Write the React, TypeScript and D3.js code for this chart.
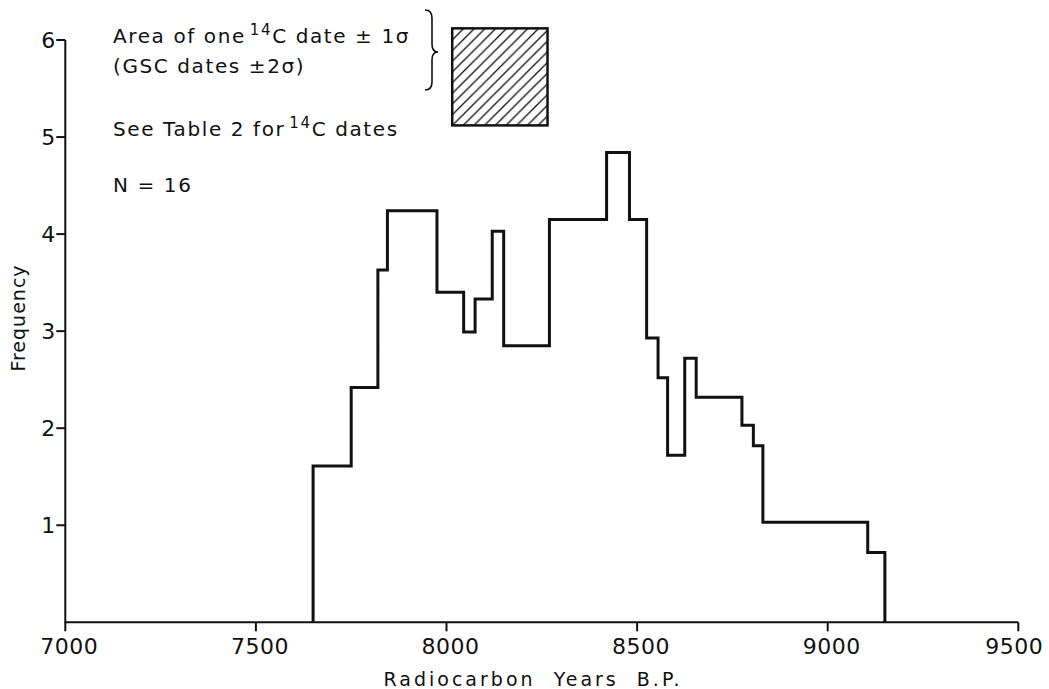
import React from 'react';
import * as d3 from 'd3';

// bin edges (years B.P.) and the frequency of each bin between two edges
const binEdges = [7650, 7750, 7820, 7845, 7975, 8045, 8075, 8120, 8150, 8270, 8420, 8480, 8525, 8555, 8580, 8625, 8655, 8775, 8805, 8830, 9105, 9150];
const frequencies = [1.61, 2.42, 3.63, 4.24, 3.40, 2.99, 3.33, 4.03, 2.85, 4.15, 4.84, 4.15, 2.93, 2.52, 1.72, 2.72, 2.32, 2.03, 1.82, 1.03, 0.72];
const xTicks = [7000, 7500, 8000, 8500, 9000, 9500];
const yTicks = [1, 2, 3, 4, 5, 6];
// legend box: one date, 250 years wide, one unit high
const legendBox = { start: 8015, years: 250, bottom: 5.12, height: 1 };

const W = 1049;
const H = 689;
const font = '"DejaVu Sans", sans-serif';

const App = () => {
    const x = d3.scaleLinear().domain([7000, 9500]).range([65.3, 1018.3]);
    const y = d3.scaleLinear().domain([0, 6]).range([622.3, 40]);

    const pts: [number, number][] = [[binEdges[0], 0]];
    frequencies.forEach((f, i) => pts.push([binEdges[i], f]));
    pts.push([binEdges[binEdges.length - 1], 0]);

    const line = d3.line<[number, number]>()
        .x(d => x(d[0]))
        .y(d => y(d[1]))
        .curve(d3.curveStepAfter);

    const x0 = x(7000), y0 = y(0);
    const bx = x(legendBox.start);
    const bw = x(legendBox.start + legendBox.years) - bx;
    const by = y(legendBox.bottom + legendBox.height);
    const bh = y(legendBox.bottom) - by;

    return (
        <svg width={W} height={H} style={{ position: 'absolute', left: 0, top: 0, background: '#fff' }}>
            <defs>
                <pattern id="hatch" patternUnits="userSpaceOnUse" width="10.7" height="10.7">
                    <path d="M0,10.7 L10.7,0 M-2,2 L2,-2 M8.7,12.7 L12.7,8.7" stroke="#111" strokeWidth="1.3" />
                </pattern>
            </defs>

            {/* axes */}
            <path d={`M${x0},${y(6)} V${y0} H${x(9500)}`} fill="none" stroke="#111" strokeWidth={2} />
            {yTicks.map(t => (
                <g key={t}>
                    <line x1={x0 - 9} x2={x0} y1={y(t)} y2={y(t)} stroke="#111" strokeWidth={2} />
                    <text x={x0 - 10} y={y(t) + 8} textAnchor="end" fontSize={22} fontFamily={font} fill="#111">{t}</text>
                </g>
            ))}
            {xTicks.map(t => (
                <g key={t}>
                    <line x1={x(t)} x2={x(t)} y1={y0} y2={y0 + 9} stroke="#111" strokeWidth={2} />
                    <text x={x(t) + (t === 9500 ? -4 : 4)} y={654} textAnchor="middle" fontSize={22} fontFamily={font} letterSpacing={0.5} fill="#111">{t}</text>
                </g>
            ))}
            <text x={533} y={686} textAnchor="middle" fontSize={19} fontFamily={font} letterSpacing={3} fill="#111" style={{ whiteSpace: 'pre' }}>
                {'Radiocarbon  Years  B.P.'}
            </text>
            <text transform="translate(25,318) rotate(-90)" textAnchor="middle" fontSize={19} fontFamily={font} letterSpacing={1} fill="#111">Frequency</text>

            {/* histogram */}
            <path d={line(pts) || ''} fill="none" stroke="#111" strokeWidth={3} strokeLinejoin="miter" />

            {/* legend */}
            <g fontFamily={font} fontSize={20} fill="#111" letterSpacing={1.6} style={{ whiteSpace: 'pre' }}>
                <text x={113} y={43}>
                    Area of one<tspan dx={4} dy={-8} fontSize={15}>14</tspan><tspan dy={8}>C date ± 1σ</tspan>
                </text>
                <text x={113} y={73}>(GSC dates ±2σ)</text>
                <text x={113} y={136}>
                    See Table 2 for<tspan dx={4} dy={-8} fontSize={15}>14</tspan><tspan dy={8}>C dates</tspan>
                </text>
                <text x={113} y={192}>N = 16</text>
            </g>
            <path d="M425,10 Q432,10 432,18 L432,44 Q432,52 438,52 Q432,52 432,60 L432,82 Q432,90 425,90"
                fill="none" stroke="#111" strokeWidth={1.6} />
            <rect x={bx} y={by} width={bw} height={bh} fill="url(#hatch)" stroke="#111" strokeWidth={2.5} />
        </svg>
    );
};

export default App;
